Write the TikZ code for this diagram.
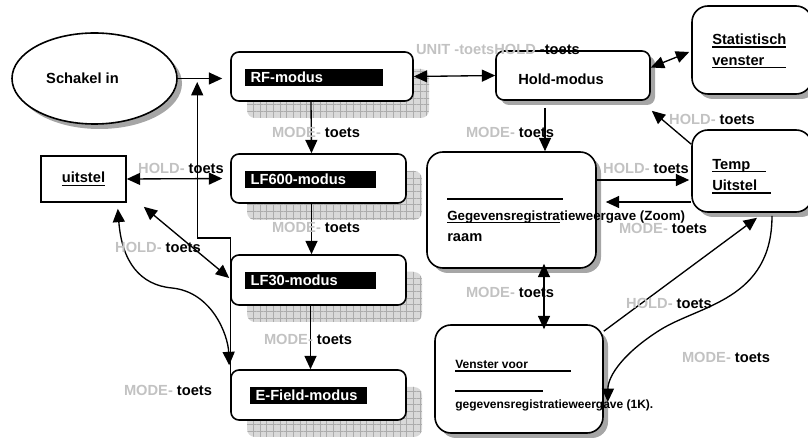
\documentclass[tikz,border=0pt]{standalone}
\usepackage{fontspec}
\setmainfont{Liberation Sans}
\usetikzlibrary{arrows.meta,shapes.geometric,shadows,patterns.meta}
\definecolor{keygray}{gray}{0.76}
\newcommand\keylbl[1]{\textcolor{keygray}{#1-} toets}
\newcommand\thickul[1]{\setbox0\hbox{#1}\rlap{\rule[-2.2pt]{\wd0}{1.3pt}}\box0}
\begin{document}
\begin{tikzpicture}[x=0.75pt,y=-0.75pt,
  every node/.style={font=\bfseries\fontsize{11}{13}\selectfont},
  modebox/.style={draw,line width=1.2pt,rounded corners=6pt,fill=white,
    general shadow={shadow xshift=12pt,shadow yshift=-12.75pt,fill=gray!30},
    general shadow={shadow xshift=12pt,shadow yshift=-12.75pt,pattern={Hatch[distance=5pt,line width=0.5pt]},pattern color=gray!65}},
  winbox/.style={draw,line width=1.2pt,rounded corners=12pt,fill=white,
    drop shadow={shadow xshift=3.75pt,shadow yshift=-3.75pt,fill=gray!70,opacity=1}},
  modebar/.style={fill=black,text=white,anchor=west,minimum height=12.75pt,inner xsep=4pt,inner ysep=0pt,align=left},
  txt/.style={inner sep=0pt},
  lbl/.style={inner sep=0pt},
  arr/.style={line width=1pt,-{Triangle[length=10pt,width=9pt]}},
  dbl/.style={line width=1pt,{Triangle[length=10pt,width=9pt]}-{Triangle[length=10pt,width=9pt]}}]
  \useasboundingbox (0,0) rectangle (808,438);

  \node[ellipse,draw,line width=1.2pt,minimum width=123.75pt,minimum height=68.25pt,fill=white,
    drop shadow={shadow xshift=3.75pt,shadow yshift=-3.75pt,fill=gray!70,opacity=1}] (sch) at (94.5,78.5) {};
  \node[txt] (schtxt) at (82.5,78) {Schakel in};

  \node[modebox,minimum width=136.5pt,minimum height=36.75pt] (rf) at (322,76.5) {};
  \node[modebox,minimum width=131.25pt,minimum height=36.75pt] (lf600) at (318.5,178.5) {};
  \node[modebox,minimum width=131.25pt,minimum height=37.5pt] (lf30) at (318.5,280) {};
  \node[modebox,minimum width=131.25pt,minimum height=37.5pt] (efield) at (318.5,395) {};
  \node[modebar,text width=95.5pt] (rfbar) at (245,77.5) {RF-modus};
  \node[modebar,text width=90.25pt] (lf600bar) at (245,179.5) {LF600-modus};
  \node[modebar,text width=90.25pt] (lf30bar) at (245,280.5) {LF30-modus};
  \node[modebar,text width=79.75pt] (efbar) at (250,395.5) {E-Field-modus};

  \node[draw,line width=1.2pt,minimum width=63.75pt,minimum height=34.5pt] (uit) at (83.5,179) {\underline{uitstel}};

  \node[winbox,rounded corners=6pt,minimum width=115.5pt,minimum height=36.75pt] (hold) at (573,75.5) {};
  \node[txt,anchor=west] (holdtxt) at (518,79) {Hold-modus};
  \node[winbox,minimum width=90pt,minimum height=66pt] (stat) at (752,50) {};
  \node[txt,anchor=west] (stat1) at (712,41) {\thickul{\makebox[55pt][l]{Statistisch}}};
  \node[txt,anchor=west] (stat2) at (712,62) {\thickul{\makebox[55pt][l]{venster}}};
  \node[winbox,minimum width=90pt,minimum height=61.5pt] (temp) at (752,171) {};
  \node[txt,anchor=west] (temp1) at (712,166) {\thickul{\makebox[40.5pt][l]{Temp}}};
  \node[txt,anchor=west] (temp2) at (712,187) {\thickul{\makebox[44pt][l]{Uitstel}}};
  \node[winbox,minimum width=126.75pt,minimum height=87pt] (zoom) at (511.5,210) {};
  \draw[line width=1.5pt] (447,199) -- (563,199);
  \node[txt,anchor=west,font=\bfseries\fontsize{10}{12}\selectfont] (zoom1) at (447,217) {\thickul{Gegevensregistra}tieweergave (Zoom)};
  \node[txt,anchor=west] (zoom2) at (447,238) {raam};
  \node[winbox,minimum width=126pt,minimum height=81pt] (vk) at (519,379) {};
  \node[txt,anchor=west,font=\bfseries\fontsize{9}{11}\selectfont] (vk1) at (455,366) {\thickul{\makebox[87pt][l]{Venster voor}}};
  \draw[line width=1.5pt] (455,391) -- (543,391);
  \node[txt,anchor=west,font=\bfseries\fontsize{9}{11}\selectfont] (vk2) at (455,405) {gegevensregistratieweergave (1K).};

  \draw[arr,shorten >=6pt] (sch.east) -- (sch.east -| rf.west);
  \draw[arr] (efield.west) -- ++(0,-157) -| ++(-33,-156);
  \draw[dbl,shorten >=6pt] (uit.east) -- (lf600.west);
  \draw[dbl] ([shift={(17,4)}]uit.south east) -- ([shift={(-1,-2)}]lf30.west);
  \draw[dbl] ([shift={(-9,6)}]uit.south east) .. controls (122,262) and (140,285) .. (172,288)
    .. controls (212,292) and (228,335) .. ([shift={(-1,-4)}]efield.north west);
  \draw[arr] ([shift={(-11,0)}]rf.south) -- ([shift={(-7,0)}]lf600.north);
  \draw[arr] ([shift={(-7,0)}]lf600.south) -- ([shift={(-7,0)}]lf30.north);
  \draw[arr] ([shift={(-8,0)}]lf30.south) -- ([shift={(-8,0)}]efield.north);
  \draw[dbl] (rf.east) -- (hold.west);
  \draw[dbl] ([shift={(0,-8)}]hold.east) -- ([shift={(-2,2)}]stat.west);
  \draw[arr] ([shift={(-28,7)}]hold.south) -- ([shift={(33.5,0)}]zoom.north);
  \draw[arr] ([shift={(0,15)}]temp.north west) -- ([shift={(1,10)}]hold.south east);
  \draw[arr] ([shift={(0,-30)}]zoom.east) -- ([shift={(-2,9)}]temp.west);
  \draw[arr] ([shift={(0,31)}]temp.west) -- ([shift={(9,-8)}]zoom.east);
  \draw[dbl] ([shift={(32.5,-5)}]zoom.south) -- ([shift={(25,5)}]vk.north);
  \draw[arr] ([shift={(0,7)}]vk.north east) -- ([shift={(5,5)}]temp.south);
  \draw[arr] ([shift={(20,3)}]temp.south) .. controls (772,300) and (700,305) .. (660,330)
    .. controls (625,352) and (608,375) .. ([shift={(4,23)}]vk.east);

  \node[lbl] (k1) at (181,168) {\keylbl{HOLD}};
  \node[lbl] (k2) at (316,132) {\keylbl{MODE}};
  \node[lbl] (k3) at (316,227) {\keylbl{MODE}};
  \node[lbl] (k4) at (308,339) {\keylbl{MODE}};
  \node[lbl] (k5) at (168,390) {\keylbl{MODE}};
  \node[lbl] (k6) at (158,247) {\keylbl{HOLD}};
  \node[lbl] (k7) at (498,49) {\textcolor{keygray}{UNIT -toetsHOLD} -toets};
  \node[lbl] (k8) at (510,132) {\keylbl{MODE}};
  \node[lbl] (k9) at (712,119) {\keylbl{HOLD}};
  \node[lbl] (k10) at (646,168) {\keylbl{HOLD}};
  \node[lbl] (k11) at (663,228) {\keylbl{MODE}};
  \node[lbl] (k12) at (510,292) {\keylbl{MODE}};
  \node[lbl] (k13) at (669,303) {\keylbl{HOLD}};
  \node[lbl] (k14) at (726,357) {\keylbl{MODE}};
\end{tikzpicture}
\end{document}
